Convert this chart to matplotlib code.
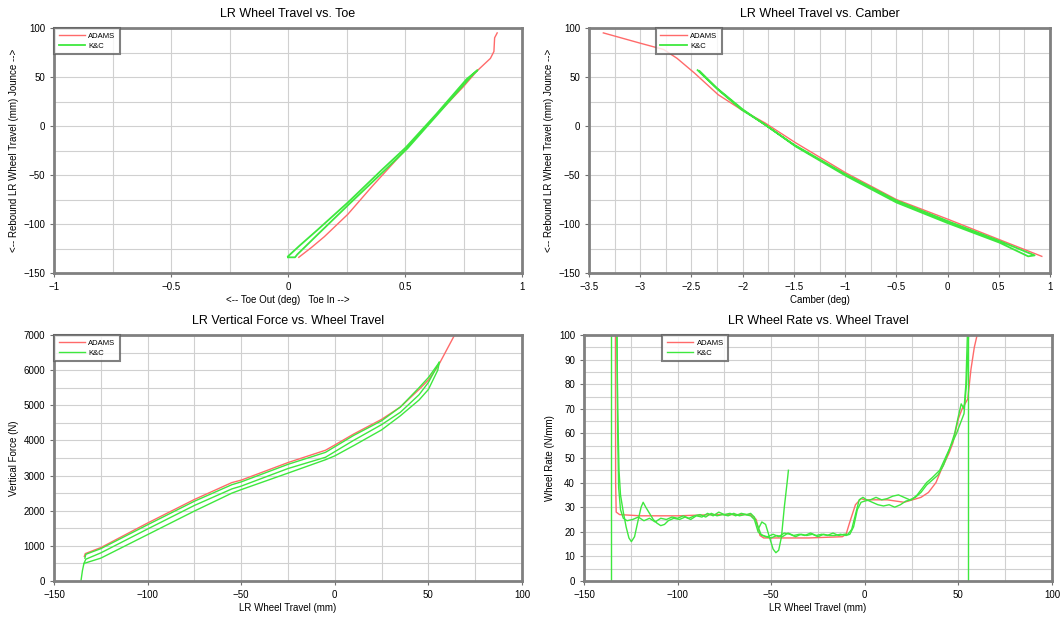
import matplotlib
matplotlib.use("Agg")
import matplotlib.pyplot as plt
from matplotlib.ticker import MultipleLocator, FuncFormatter

plt.rcParams['font.family'] = ['Liberation Sans', 'DejaVu Sans']

RED = '#ff6a6a'
GREEN = '#3ee83e'

# --- LR Wheel Travel vs. Toe  (toe deg, travel mm)
toe_adams = [(0.046, -134), (0.1, -124), (0.155, -113), (0.256, -90), (0.358, -62),
             (0.503, -24), (0.633, 11), (0.749, 40), (0.807, 56), (0.865, 69),
             (0.88, 76), (0.883, 90), (0.894, 95)]
toe_kc = [(0.0, -133), (0.05, -122), (0.126, -106), (0.256, -78), (0.40, -45),
          (0.503, -22), (0.633, 12), (0.764, 48), (0.81, 57), (0.78, 50),
          (0.64, 12), (0.51, -23), (0.41, -46), (0.26, -80), (0.13, -110),
          (0.04, -131), (0.03, -134), (0.0, -134)]

# --- LR Wheel Travel vs. Camber  (camber deg, travel mm)
camber_adams = [(-3.36, 95), (-3.0, 84.5), (-2.77, 78), (-2.64, 69), (-2.47, 54),
                (-2.24, 32), (-2.01, 16.5), (-1.78, 3), (-1.485, -17), (-0.99, -48),
                (-0.5, -75), (0.0, -95), (0.507, -116), (0.92, -133)]
camber_kc = [(-2.44, 57), (-2.24, 37), (-2.01, 16.6), (-1.78, 1.4), (-1.485, -20.7),
             (-0.99, -51), (-0.5, -78), (0.0, -99), (0.507, -119), (0.787, -133),
             (0.85, -132), (0.5, -117), (0.0, -97), (-0.5, -76), (-1.0, -49),
             (-1.5, -19), (-1.8, 2.5), (-2.0, 17), (-2.25, 38.5), (-2.42, 56)]

# --- LR Vertical Force vs. Wheel Travel  (travel mm, force N)
force_adams = [(-133.8, 700), (-133.3, 780), (-125, 950), (-100, 1650), (-75, 2320),
               (-55, 2800), (-50, 2870), (-25, 3370), (-5, 3720), (0, 3870),
               (10, 4180), (25, 4600), (35, 4950), (45, 5450), (50, 5720),
               (55, 6100), (60, 6600), (64, 7000)]
force_kc_upper = [(-133.5, 650), (-133, 760), (-125, 920), (-100, 1600), (-75, 2270),
                  (-55, 2740), (-50, 2820), (-25, 3320), (-5, 3660), (0, 3820),
                  (10, 4140), (25, 4560), (35, 4950), (45, 5500), (50, 5790),
                  (55.8, 6220)]
force_kc_middle = [(-134, 500), (-133, 620), (-125, 800), (-100, 1480), (-75, 2150),
                   (-55, 2620), (-50, 2700), (-25, 3200), (-5, 3520), (0, 3680),
                   (10, 4000), (25, 4450), (35, 4800), (45, 5300), (50, 5650),
                   (55.8, 6220)]
force_kc_lower = [(-135.6, 0), (-134.8, 300), (-134, 500), (-125, 650), (-100, 1320),
                  (-75, 1990), (-55, 2500), (-50, 2600), (-25, 3070), (-5, 3450),
                  (0, 3560), (10, 3850), (25, 4300), (35, 4700), (45, 5150),
                  (50, 5450), (55, 6000), (55.8, 6220)]

# --- LR Wheel Rate vs. Wheel Travel  (travel mm, rate N/mm)
rate_adams = [(-133.2, 100), (-133.1, 40), (-132.8, 28), (-131, 27), (-120, 26.5),
              (-100, 26.5), (-80, 27), (-61, 27), (-58, 25), (-56, 18.5), (-54, 17.5),
              (-30, 17.5), (-12, 18), (-10, 19), (-8, 24), (-5, 31), (-2, 33.5),
              (0, 33), (12, 33), (21, 32), (30, 34), (34, 36), (38, 40), (41, 45.5),
              (45, 52), (47, 56), (50, 66), (52, 70), (55, 74), (56.7, 86),
              (58.5, 95), (60, 100)]
rate_kc_edge_low = [(-135.6, 0), (-135.6, 100)]
rate_kc_edge_high = [(55.2, 0), (55.2, 100)]
rate_kc_a = [(-132.4, 100), (-132, 70), (-131.3, 45), (-130.5, 35), (-129, 28),
             (-127.5, 22), (-126, 17.5), (-124.7, 16), (-123, 18), (-121, 25),
             (-119.5, 30), (-118.4, 32), (-117, 30), (-115, 27.5), (-113, 25),
             (-111, 23.5), (-109, 22.5), (-107, 23), (-105, 24.5), (-102, 25.5),
             (-99, 25), (-96, 26), (-93, 25), (-90, 26.5), (-87, 26), (-84, 27.5),
             (-81, 26.5), (-78, 28), (-75, 27), (-72, 27.5), (-69, 26.5), (-66, 27.5),
             (-63, 27), (-61, 27.5), (-59, 26), (-57, 22), (-55.5, 19), (-53, 18),
             (-50, 17.5), (-47, 18.5), (-44, 18), (-41, 19.5), (-38, 18.5), (-35, 19),
             (-32, 18.5), (-29, 19.5), (-26, 18.5), (-23, 19), (-20, 18.5), (-17, 19.5),
             (-14, 18.5), (-11, 19), (-9, 19), (-7, 21), (-5, 27), (-3, 33), (-1, 34),
             (1, 33), (4, 32), (7, 31), (10, 30.5), (13, 31), (16, 30), (19, 31),
             (22, 32.5), (25, 33), (28, 35), (31, 38), (33, 40), (36, 42), (40, 45),
             (43, 50), (46, 55), (49, 60), (51, 64), (53, 68), (54.3, 80), (55, 92),
             (55.4, 100)]
rate_kc_b = [(-132.4, 100), (-132, 60), (-131.5, 38), (-130.5, 29), (-129, 25.5),
             (-127, 24.5), (-124, 25), (-121, 26), (-118, 24.5), (-115, 25.5),
             (-112, 24), (-109, 25.5), (-106, 25), (-103, 26), (-100, 25.5),
             (-97, 26.5), (-94, 25.5), (-91, 26.5), (-88, 27), (-85, 26), (-82, 27.5),
             (-79, 26.5), (-76, 27), (-73, 26.5), (-70, 27.5), (-67, 26.5), (-64, 27),
             (-61, 26.5), (-59, 25), (-57, 20), (-55, 18.5), (-52, 18), (-49, 19),
             (-46, 18), (-43, 19.5), (-40, 19), (-37, 18), (-34, 19), (-31, 18.5),
             (-28, 19), (-25, 18), (-22, 19), (-19, 18.5), (-16, 18.5), (-13, 19),
             (-10, 18.5), (-8, 19), (-6, 22), (-4, 29), (-2, 32), (0, 32.5), (3, 33),
             (6, 34), (9, 33), (12, 33.5), (15, 34.5), (18, 35), (21, 34), (24, 33),
             (27, 34), (30, 36), (33, 39), (36, 41), (39, 43), (42, 47), (45, 53),
             (48, 60), (50, 67), (51.5, 72), (53, 70), (54, 80), (54.8, 100)]
rate_kc_spike = [(-57, 21), (-55, 24), (-53, 23), (-51, 18), (-49, 13), (-47.5, 11.5),
                 (-46, 12.5), (-44.5, 18), (-43, 30), (-41.5, 40), (-40.8, 45)]


def xy(points):
    return [p[0] for p in points], [p[1] for p in points]


def short_num(v, pos):
    return ('%g' % round(v, 6)).replace('-', '\u2212')


def style_axes(ax, title, xlabel, ylabel, xlim, ylim, xmaj, ymaj):
    ax.set_xlim(*xlim)
    ax.set_ylim(*ylim)
    ax.xaxis.set_major_locator(MultipleLocator(xmaj))
    ax.yaxis.set_major_locator(MultipleLocator(ymaj))
    ax.xaxis.set_minor_locator(MultipleLocator(xmaj / 2))
    ax.yaxis.set_minor_locator(MultipleLocator(ymaj / 2))
    ax.xaxis.set_major_formatter(FuncFormatter(short_num))
    ax.yaxis.set_major_formatter(FuncFormatter(short_num))
    ax.grid(True, which='both', color='#d0d0d0', linewidth=0.8)
    ax.set_axisbelow(True)
    ax.tick_params(which='major', labelsize=7, length=3, color='#707070')
    ax.tick_params(which='minor', length=0)
    for s in ax.spines.values():
        s.set_color('#808080')
        s.set_linewidth(2)
    ax.set_title(title, fontsize=9, pad=8)
    ax.set_xlabel(xlabel, fontsize=7, labelpad=2)
    ax.set_ylabel(ylabel, fontsize=7, labelpad=3)


def add_legend(ax, xfrac):
    leg = ax.legend(loc='upper left', bbox_to_anchor=(xfrac, 1.0), borderaxespad=0,
                    fontsize=5.5, frameon=True, fancybox=False, handlelength=3.5,
                    borderpad=0.6, labelspacing=0.3, handletextpad=0.4)
    leg.get_frame().set_edgecolor('#606060')
    leg.get_frame().set_linewidth(1.5)


fig = plt.figure(figsize=(10.6, 6.18), dpi=100)

ax1 = fig.add_axes([54 / 1060, 345 / 618, 468 / 1060, 245 / 618])
x, y = xy(toe_adams)
ax1.plot(x, y, color=RED, lw=1, label='ADAMS')
x, y = xy(toe_kc)
ax1.plot(x, y, color=GREEN, lw=1.3, label='K&C')
style_axes(ax1, 'LR Wheel Travel vs. Toe', '<-- Toe Out (deg)   Toe In -->',
           '<-- Rebound LR Wheel Travel (mm) Jounce -->', (-1, 1), (-150, 100), 0.5, 50)
add_legend(ax1, 0.0)

ax2 = fig.add_axes([589 / 1060, 345 / 618, 461 / 1060, 245 / 618])
x, y = xy(camber_adams)
ax2.plot(x, y, color=RED, lw=1, label='ADAMS')
x, y = xy(camber_kc)
ax2.plot(x, y, color=GREEN, lw=1.3, label='K&C')
style_axes(ax2, 'LR Wheel Travel vs. Camber', 'Camber (deg)',
           '<-- Rebound LR Wheel Travel (mm) Jounce -->', (-3.5, 1), (-150, 100), 0.5, 50)
add_legend(ax2, 0.145)

ax3 = fig.add_axes([54 / 1060, 37 / 618, 468 / 1060, 246 / 618])
x, y = xy(force_adams)
ax3.plot(x, y, color=RED, lw=1, label='ADAMS')
for i, branch in enumerate([force_kc_upper, force_kc_middle, force_kc_lower]):
    x, y = xy(branch)
    ax3.plot(x, y, color=GREEN, lw=1, label='K&C' if i == 0 else None)
style_axes(ax3, 'LR Vertical Force vs. Wheel Travel', 'LR Wheel Travel (mm)',
           'Vertical Force (N)', (-150, 100), (0, 7000), 50, 1000)
add_legend(ax3, 0.0)

ax4 = fig.add_axes([584 / 1060, 37 / 618, 468 / 1060, 246 / 618])
x, y = xy(rate_adams)
ax4.plot(x, y, color=RED, lw=1, label='ADAMS')
kc_branches = [rate_kc_edge_low, rate_kc_edge_high, rate_kc_a, rate_kc_b, rate_kc_spike]
for i, branch in enumerate(kc_branches):
    x, y = xy(branch)
    ax4.plot(x, y, color=GREEN, lw=1, label='K&C' if i == 0 else None)
style_axes(ax4, 'LR Wheel Rate vs. Wheel Travel', 'LR Wheel Travel (mm)',
           'Wheel Rate (N/mm)', (-150, 100), (0, 100), 50, 10)
ax4.yaxis.set_minor_locator(MultipleLocator(5))
add_legend(ax4, 0.167)

fig.savefig('out.png', dpi=100)
